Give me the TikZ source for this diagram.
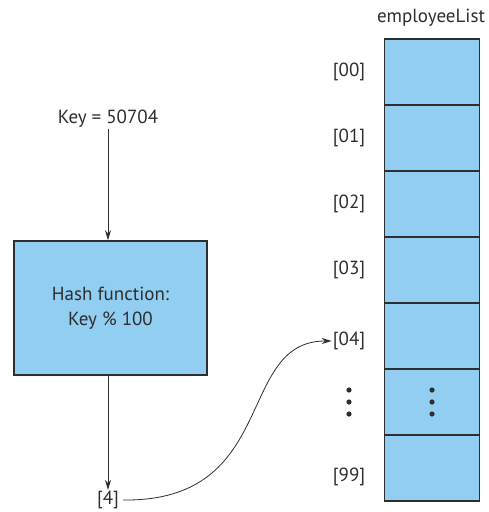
\documentclass[tikz,border=0pt]{standalone}
\usepackage{fontspec}
\setmainfont{PT Sans}
\usetikzlibrary{arrows.meta}
\definecolor{cellBlue}{HTML}{92CEF2}
\definecolor{lineGray}{HTML}{2E2E2E}
\tikzset{
  cellbox/.style={draw=lineGray, fill=cellBlue, line width=1.6pt, minimum width=95pt, minimum height=66pt, inner sep=0pt},
  idxlabel/.style={text=lineGray, font=\fontsize{19}{22}\selectfont, inner sep=1pt},
  flowarrow/.style={draw=lineGray, line width=0.8pt, -{Stealth[length=10pt,width=6pt]}}
}

\begin{document}
\begin{tikzpicture}[x=1pt, y=-1pt]
            \useasboundingbox (0,0) rectangle (489,512);
            % the array
            \node[idxlabel] (title) at (431,18) {employeeList};
            \foreach \i in {0,...,6}
                \node[cellbox] (cell\i) at (432,72+66*\i) {};
            \node[idxlabel] (lbl00) at (349,72) {[00]};
            \node[idxlabel] (lbl01) at (349,138) {[01]};
            \node[idxlabel] (lbl02) at (349,204) {[02]};
            \node[idxlabel] (lbl03) at (349,270) {[03]};
            \node[idxlabel] (lbl04) at (349,341) {[04]};
            \node[idxlabel] (lbl99) at (349,477) {[99]};
            \foreach \dy in {-12,0,12} {
                \fill[lineGray] (349,402+\dy) circle (2.6pt);
                \fill[lineGray] (cell5.center) ++(0,\dy) circle (2.6pt);
            }
            % hash side
            \node[idxlabel] (key) at (108,119) {Key = 50704};
            \node[draw=lineGray, fill=cellBlue, line width=1.6pt, minimum width=193pt, minimum height=134pt, align=center, text=lineGray, font=\fontsize{19}{25}\selectfont] (hash) at (110.5,308) {Hash function:\\Key \% 100};
            \node[idxlabel] (idx) at (108,500) {[4]};
            \draw[flowarrow] (key.south) -- (key.south |- hash.north);
            \draw[flowarrow] (idx.north |- hash.south) -- (idx.north);
            \draw[flowarrow] (idx.east) ++(3,0) .. controls (280,502) and (235,341) .. (lbl04.west);
        \end{tikzpicture}
\end{document}
